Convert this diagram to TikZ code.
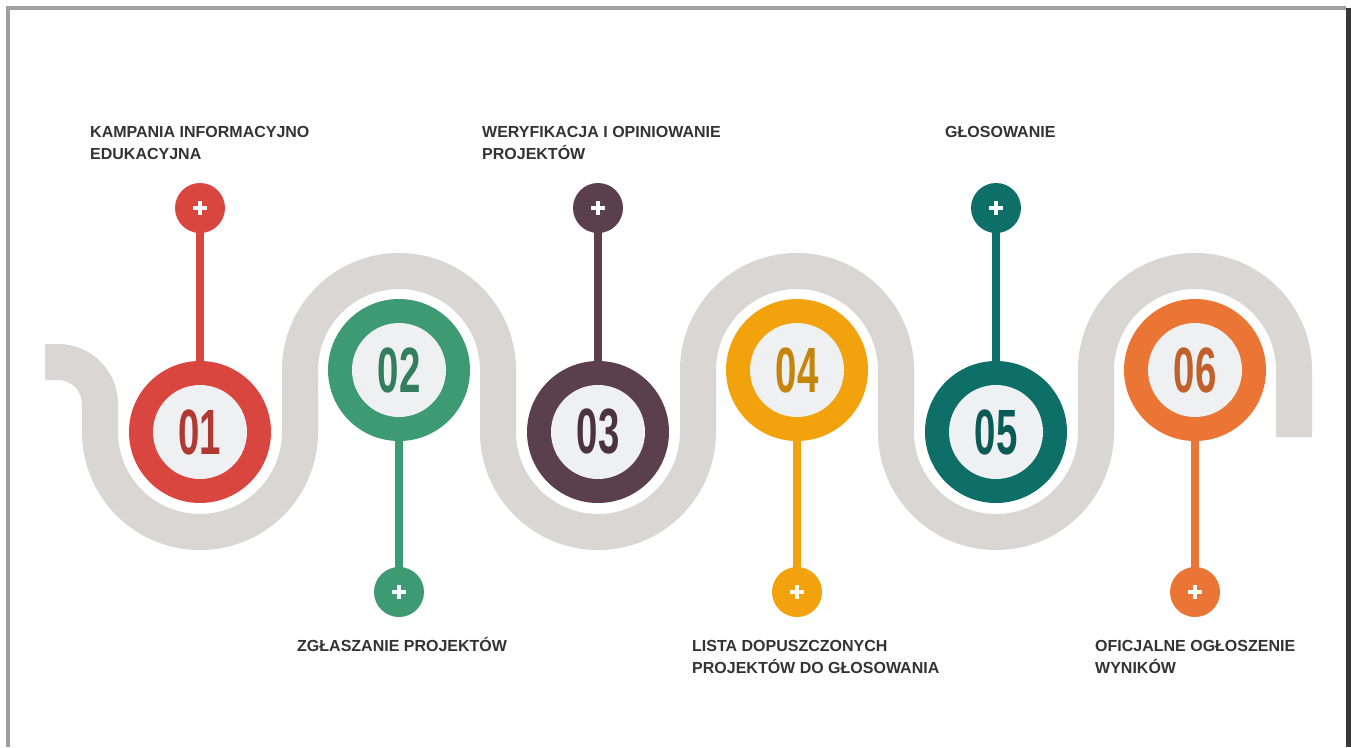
\documentclass[tikz,border=0pt]{standalone}
\usepackage{fontspec}
\setmainfont{Liberation Sans}
\newfontfamily\numfont[FakeStretch=0.6]{Liberation Sans}
\usetikzlibrary{backgrounds}
\definecolor{cA}{HTML}{D8463F}
\definecolor{cB}{HTML}{3E9A72}
\definecolor{cC}{HTML}{5B3F4D}
\definecolor{cD}{HTML}{F1A20C}
\definecolor{cE}{HTML}{0E6E68}
\definecolor{cF}{HTML}{EB7535}
\definecolor{band}{HTML}{D9D6D3}
\definecolor{txt}{HTML}{333333}
\definecolor{disc}{HTML}{EEF0F2}
\tikzset{
  ringnode/.style={circle, minimum size=142pt, inner sep=0pt, fill=#1},
  discnode/.style={circle, minimum size=94pt, inner sep=0pt, fill=disc,
    text=#1!82!black, font=\numfont\bfseries\fontsize{64}{64}\selectfont},
  pinnode/.style={circle, minimum size=50pt, inner sep=0pt, fill=#1,
    path picture={\draw[white, line width=4.5pt]
      (path picture bounding box.center) ++(-7pt,0) -- ++(14pt,0)
      (path picture bounding box.center) ++(0,-7pt) -- ++(0,14pt);}},
  stemline/.style={draw=#1, line width=8pt},
  halo/.style={fill=white},
  label/.style={anchor=north west, inner sep=0pt, align=left, text=txt,
    font=\bfseries\fontsize{16}{22}\selectfont},
  wave/.style={draw=band, line width=36pt, line cap=butt},
  frame/.style={line width=4pt}
}
\begin{document}
\begin{tikzpicture}[x=1pt,y=-1pt]
\useasboundingbox (0,0) rectangle (1351,747);
% frame
\draw[frame, draw=gray!75] (8,747) -- (8,8) -- (1346,8);
\draw[line width=5pt, draw=black!78] (1348.5,8) -- (1348.5,747);

% rings
\node[ringnode=cA] (r1) at (200,432) {};
\node[ringnode=cB] (r2) at (399,370) {};
\node[ringnode=cC] (r3) at (598,432) {};
\node[ringnode=cD] (r4) at (797,370) {};
\node[ringnode=cE] (r5) at (996,432) {};
\node[ringnode=cF] (r6) at (1195,370) {};

\node[discnode=cA] (n1) at (r1) {01};
\node[discnode=cB] (n2) at (r2) {02};
\node[discnode=cC] (n3) at (r3) {03};
\node[discnode=cD] (n4) at (r4) {04};
\node[discnode=cE] (n5) at (r5) {05};
\node[discnode=cF] (n6) at (r6) {06};

% pins
\node[pinnode=cA] (p1) at (200,208) {};
\node[pinnode=cB] (p2) at (399,592) {};
\node[pinnode=cC] (p3) at (598,208) {};
\node[pinnode=cD] (p4) at (797,592) {};
\node[pinnode=cE] (p5) at (996,208) {};
\node[pinnode=cF] (p6) at (1195,592) {};

% labels
\node[label] (t1) at (90,122) {\rule{0pt}{15pt}KAMPANIA INFORMACYJNO\\EDUKACYJNA};
\node[label] (t3) at (482,122) {\rule{0pt}{15pt}WERYFIKACJA I OPINIOWANIE\\PROJEKTÓW};
\node[label] (t5) at (945,122) {\rule{0pt}{15pt}GŁOSOWANIE};
\node[label] (t2) at (297,636) {\rule{0pt}{15pt}ZGŁASZANIE PROJEKTÓW};
\node[label] (t4) at (692,636) {\rule{0pt}{15pt}LISTA DOPUSZCZONYCH\\PROJEKTÓW DO GŁOSOWANIA};
\node[label] (t6) at (1095,636) {\rule{0pt}{15pt}OFICJALNE OGŁOSZENIE\\WYNIKÓW};

\begin{scope}[on background layer]
  \fill[white] (0,0) rectangle (1351,747);
  % wave band
  \draw[wave] (45,362) -- (58,362) arc[start angle=270, end angle=360, radius=42]
    -- (100,432) arc[start angle=180, end angle=0, radius=100]
    -- (300,370) arc[start angle=180, end angle=360, radius=99]
    -- (498,432) arc[start angle=180, end angle=0, radius=100]
    -- (698,370) arc[start angle=180, end angle=360, radius=99]
    -- (896,432) arc[start angle=180, end angle=0, radius=100]
    -- (1096,370) arc[start angle=180, end angle=360, radius=99]
    -- (1294,437);
  % halos
  \fill[halo] (r1) circle (78);
  \fill[halo] (r2) circle (78);
  \fill[halo] (r3) circle (78);
  \fill[halo] (r4) circle (78);
  \fill[halo] (r5) circle (78);
  \fill[halo] (r6) circle (78);
  % stems
  \draw[stemline=cA] (p1.center) -- (r1.center);
  \draw[stemline=cB] (p2.center) -- (r2.center);
  \draw[stemline=cC] (p3.center) -- (r3.center);
  \draw[stemline=cD] (p4.center) -- (r4.center);
  \draw[stemline=cE] (p5.center) -- (r5.center);
  \draw[stemline=cF] (p6.center) -- (r6.center);
\end{scope}
\end{tikzpicture}
\end{document}
